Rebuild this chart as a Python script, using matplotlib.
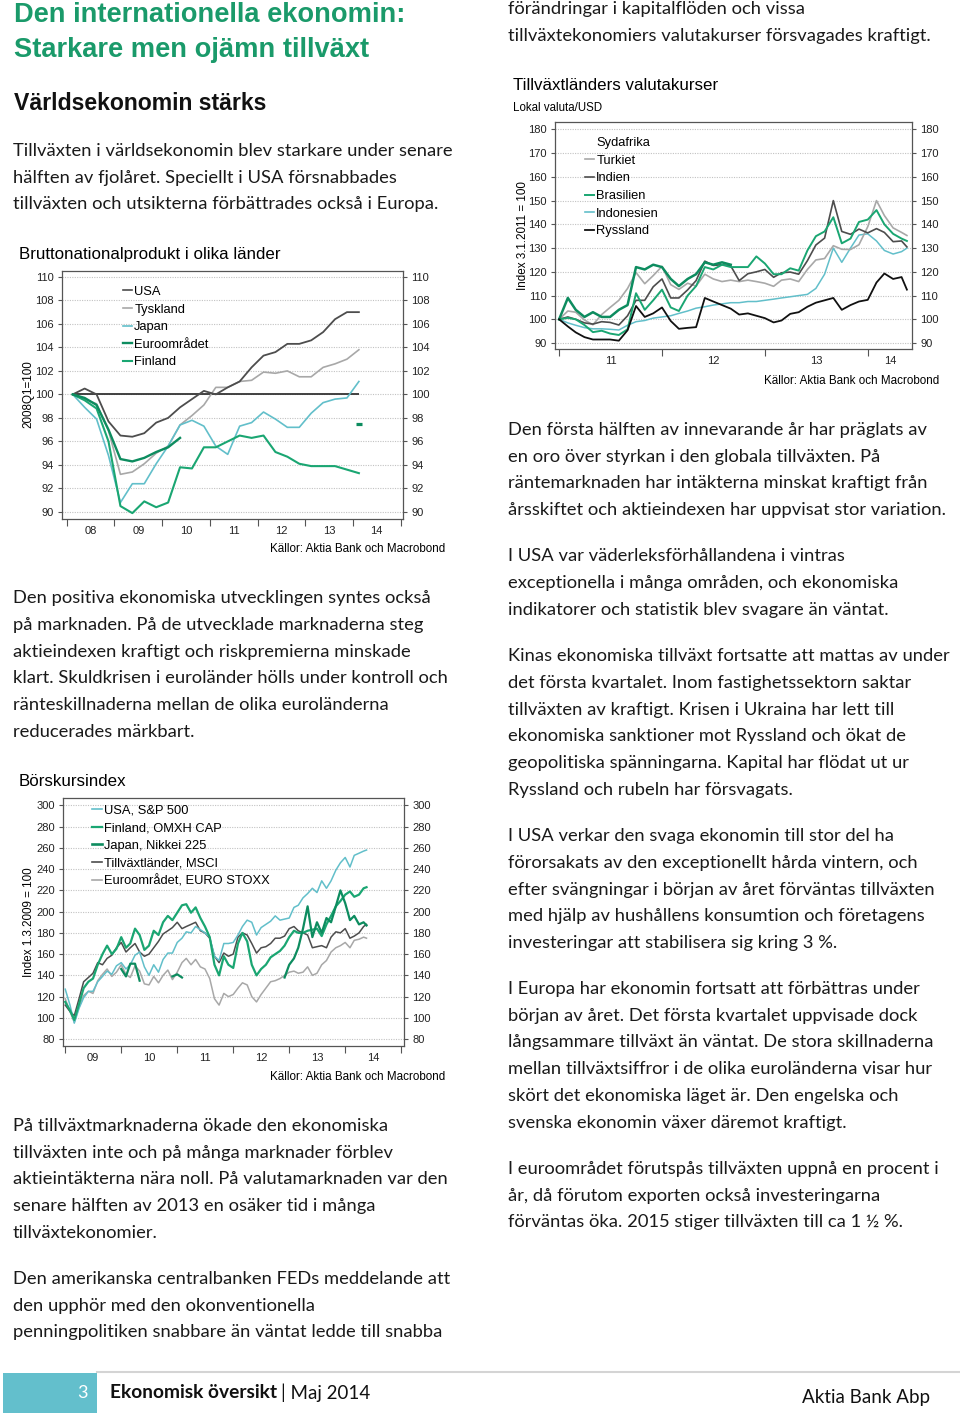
import numpy as np
import pandas as pd
import matplotlib
matplotlib.use("Agg")
import matplotlib.pyplot as plt
from matplotlib.lines import Line2D
from matplotlib.patches import Rectangle

nan = np.nan

# Bruttonationalprodukt i olika länder, 2008Q1 = 100 (kvartal)
gdp_quarters = pd.period_range("2008Q1", "2014Q1", freq="Q")
gdp_base = 100
gdp_usa = [100.0, 100.5, 100.0, 97.7, 96.5, 96.4, 96.7, 97.6, 98.0, 98.9, 99.6, 100.3, 100.0,
           100.6, 101.1, 102.3, 103.3, 103.6, 104.3, 104.3, 104.6, 105.3, 106.4, 107.0, 107.0]
gdp_tyskland = [100.0, 99.6, 99.2, 96.9, 93.2, 93.4, 94.1, 95.0, 95.6, 97.4, 98.2, 99.1, 100.6,
                100.6, 101.1, 101.2, 101.9, 101.8, 102.0, 101.5, 101.5, 102.3, 102.6, 103.0, 103.8]
gdp_japan = [100.0, 98.9, 97.9, 94.8, 90.8, 92.4, 92.4, 94.1, 95.6, 97.4, 97.8, 97.3, 95.6,
             94.9, 97.3, 97.6, 98.5, 97.9, 97.2, 97.2, 98.4, 99.3, 99.6, 99.7, 101.1]
gdp_euro = [100.0, 99.7, 99.1, 97.0, 94.5, 94.3, 94.6, 95.1, 95.5, 96.3,
            nan, nan, nan, nan, nan, nan, nan, nan, nan, nan, nan, nan, nan, nan, 97.5]
gdp_finland = [100.0, 99.5, 98.8, 96.0, 90.5, 89.9, 90.9, 90.4, 90.8, 93.8, 93.7, 95.5, 95.5,
               96.0, 96.5, 96.3, 96.5, 95.1, 94.7, 94.1, 93.9, 93.9, 93.9, 93.6, 93.3]

# Börskursindex, 1.3.2009 = 100 (månadsvis jan 2009 - maj 2014 + sista notering)
stock_dates = list(pd.date_range("2009-01-01", "2014-05-01", freq="MS")) + [pd.Timestamp("2014-05-20")]
stock_usa = [127, 112, 95, 109, 119, 125, 125, 134, 139, 144, 141, 149,
             152, 146, 150, 159, 162, 148, 140, 150, 143, 155, 161, 161,
             171, 175, 181, 180, 186, 183, 180, 176, 158, 154, 170, 170,
             171, 178, 186, 192, 190, 178, 185, 188, 191, 196, 192, 193,
             194, 204, 206, 213, 217, 222, 218, 229, 222, 229, 239, 246,
             251, 242, 253, 255, 257, 258]
stock_finland = [115, 107, 98, 113, 128, 134, 137, 150, 160, 168, 160, 165,
                 176, 166, 170, 184, 178, 164, 168, 182, 178, 190, 196, 192,
                 199, 206, 207, 199, 204, 194, 186, 176, 150, 140, 158, 150,
                 147, 170, 180, 172, 150, 140, 146, 150, 157, 160, 163, 168,
                 176, 182, 180, 180, 182, 183, 184, 177, 188, 196, 205, 210,
                 216, 219, 214, 216, 222, 223]
stock_japan = [nan, nan, nan, nan, nan, nan, nan, nan, nan, nan, nan, nan,
               146, 139, 151, 151, 135, nan, nan, nan, nan, nan, nan, 139,
               141, 138, nan, nan, nan, nan, nan, nan, nan, nan, nan, nan,
               nan, nan, nan, nan, nan, nan, nan, nan, nan, nan, nan, 138,
               150, 156, 166, 184, 205, 176, 190, 180, 194, 190, 205, 220,
               208, 192, 196, 188, 190, 187]
stock_em = [112, 106, 102, 118, 134, 138, 142, 152, 150, 156, 159, 166,
            171, 162, 166, 170, 162, 158, 160, 166, 172, 179, 182, 185,
            190, 184, 186, 188, 190, 182, 180, 175, 158, 152, 161, 158,
            160, 176, 180, 178, 170, 161, 166, 167, 170, 175, 175, 177,
            184, 186, 182, 180, 178, 166, 167, 168, 166, 176, 181, 180,
            184, 175, 177, 180, 186, 188]
stock_euro = [118, 106, 96, 110, 121, 125, 123, 135, 141, 146, 139, 143,
              150, 141, 138, 149, 144, 132, 131, 139, 133, 140, 145, 136,
              143, 152, 156, 150, 155, 148, 146, 137, 118, 112, 123, 120,
              122, 128, 133, 131, 120, 115, 122, 128, 134, 135, 137, 140,
              143, 144, 142, 143, 148, 140, 142, 150, 154, 162, 166, 168,
              171, 166, 173, 174, 176, 175]

# Tillväxtländers valutakurser, lokal valuta/USD, 3.1.2011 = 100
fx_dates = list(pd.date_range("2011-01-01", "2014-05-01", freq="MS")) + [pd.Timestamp("2014-05-20")]
fx_sydafrika = [100, 109, 104, 101, 103, 101, 101, 104, 106, 122, 121, 123,
                122, 117, 114, 117, 119, 124, 123, 124, 123, nan, nan, nan,
                nan, nan, nan, nan, nan, nan, nan, nan, nan, nan, nan, nan,
                nan, nan, nan, nan, nan, nan]
fx_turkiet = [100, 103.5, 103, 99.7, 97.7, 102, 105, 108, 113, 119.7, 115, 118.4,
              122.3, 114.6, 112.6, 115.2, 114, 119, 117, 115.9, 116.5, 115.9, 116.5, 115.9,
              115.2, 113.9, 116.5, 117, 115.9, 121, 125, 125.6, 131, 129.5, 129.4, 131.4,
              139, 150, 143.7, 138.5, 136.6, 135.3]
fx_indien = [100, 101, 100, 98.5, 98, 99, 98.7, 97.6, 101.5, 108, 108, 113.7,
             117, 109, 109, 112.4, 116.3, 124.5, 122.7, 123, 122.5, 116.3, 119.2, 120,
             121, 117.7, 119.6, 119.9, 119, 124.7, 131.3, 134.2, 150, 137, 135.8, 138,
             136.4, 138.2, 136.6, 132.7, 133, 130.5]
fx_brasilien = [100, 100.6, 100, 97.6, 94.6, 95.2, 94, 93.4, 95.8, 111, 104, 108,
                112.5, 105, 103.5, 110, 114, 122, 121, 123, 122, 122, 122, 126.5,
                123.5, 119, 119, 121.5, 120.5, 129, 135, 137, 143, 132, 134, 141,
                142, 146, 140, 136, 134, 133]
fx_indonesien = [100, 98.5, 97.5, 96.5, 96, 96, 95.8, 95.5, 97.5, 99, 99.5, 100.5,
                 101, 101.5, 102.5, 103.5, 104.7, 105.3, 106, 106.5, 107, 107, 107.5, 107.5,
                 108, 108.5, 109, 109.5, 110, 110.5, 113, 119, 130, 124, 130, 135.5,
                 136, 133, 129, 127.5, 128.5, 130]
fx_ryssland = [100, 97, 94.5, 92.5, 91.5, 91.5, 91.5, 91, 95.4, 105.6, 101, 102.5,
               105, 99.3, 96, 96.4, 96.7, 109, 107.5, 106, 104.5, 102, 102.5, 101.5,
               100.5, 98.7, 99.5, 102.3, 103, 105.3, 107, 108, 109, 104, 106, 107.5,
               108.2, 115.5, 119.3, 117, 117.8, 112.5]

W, H = 960, 1414
BODY = "Lato"
CHART = "Liberation Sans"
DARK = "#4d4d4d"
LIGHT = "#a8a8a8"
TEAL = "#62bfca"
GREEN = "#1aa672"
DKGREEN = "#0d8c5f"
BLACK = "#111111"

plt.rcParams["font.family"] = CHART

fig = plt.figure(figsize=(W / 100, H / 100), dpi=100)


def txt(x, y, s, size, **kw):
    kw.setdefault("va", "center")
    fig.text(x / W, 1 - y / H, s, fontsize=size, **kw)


def add_ax(left, top, right, bottom):
    return fig.add_axes([left / W, 1 - bottom / H, (right - left) / W, (bottom - top) / H])


def to_year(dates):
    return np.array([d.year + (d.dayofyear - 1) / 365.25 for d in dates])


def style_ax(ax, xlim, ylim, yticks, years, labels, label_pos):
    ax.set_xlim(*xlim)
    ax.set_ylim(*ylim)
    ax.set_yticks(yticks)
    ax.tick_params(axis="y", left=True, right=True, labelleft=True, labelright=True,
                   length=3, width=0.8, color="#555555", labelsize=8, pad=3, labelcolor="#222222")
    ax.set_xticks(years)
    ax.set_xticklabels([])
    ax.tick_params(axis="x", which="major", length=5, width=0.8, color="#555555")
    ax.set_xticks(label_pos, minor=True)
    ax.set_xticklabels(labels, minor=True)
    ax.tick_params(axis="x", which="minor", length=0, labelsize=8, pad=5, labelcolor="#222222")
    ax.grid(axis="y", color="#c2c2c2", lw=0.8, ls=(0, (1, 1.2)))
    ax.set_axisbelow(True)
    for sp in ax.spines.values():
        sp.set_color("#555555")
        sp.set_linewidth(0.9)


def plot_series(ax, x, y, color, lw, zorder=3):
    y = np.asarray(y, dtype=float)
    ax.plot(x, y, color=color, lw=lw, zorder=zorder, solid_joinstyle="round")
    ok = ~np.isnan(y)
    prev = np.r_[False, ok[:-1]]
    nxt = np.r_[ok[1:], False]
    lone = ok & ~prev & ~nxt
    if lone.any():
        ax.plot(x[lone], y[lone], ls="none", marker="_", ms=4, mew=lw + 0.6, color=color, zorder=zorder)


def legend(ax, entries, anchor):
    handles = [Line2D([], [], color=c, lw=lw) for _, c, lw in entries]
    lg = ax.legend(handles, [n for n, _, _ in entries], loc="upper left", bbox_to_anchor=anchor,
                   frameon=False, fontsize=9.3, handlelength=0.75, handletextpad=0.15,
                   labelspacing=0.43, borderaxespad=0, borderpad=0)
    lg.set_zorder(10)


# ---------------- chart 1 ----------------
ax1 = add_ax(62, 271, 403, 519)
gx = np.array([p.year + (p.quarter - 0.5) / 4 for p in gdp_quarters])
years1 = list(range(2008, 2016))
style_ax(ax1, (2007.9, 2015.05), (89.4, 110.5), list(range(90, 111, 2)), years1,
         [f"{y % 100:02d}" for y in years1[:-1]], [y + 0.5 for y in years1[:-1]])
ax1.hlines(gdp_base, gx[0], gx[-1], color="#333333", lw=1.3, zorder=2)
plot_series(ax1, gx, gdp_tyskland, LIGHT, 1.2)
plot_series(ax1, gx, gdp_japan, TEAL, 1.2)
plot_series(ax1, gx, gdp_usa, DARK, 1.3)
plot_series(ax1, gx, gdp_finland, GREEN, 1.5)
plot_series(ax1, gx, gdp_euro, DKGREEN, 1.7)
legend(ax1, [("USA", DARK, 1.2), ("Tyskland", LIGHT, 1.2), ("Japan", TEAL, 1.2),
             ("Euroområdet", DKGREEN, 1.7), ("Finland", GREEN, 1.5)], (0.178, 0.94))

# ---------------- chart 2 ----------------
ax2 = add_ax(63, 798, 404, 1046)
sx = to_year(stock_dates)
years2 = list(range(2009, 2016))
style_ax(ax2, (2008.96, 2015.05), (73.5, 307), list(range(80, 301, 20)), years2,
         [f"{y % 100:02d}" for y in years2[:-1]], [y + 0.5 for y in years2[:-1]])
plot_series(ax2, sx, stock_euro, LIGHT, 1.1)
plot_series(ax2, sx, stock_em, DARK, 1.1)
plot_series(ax2, sx, stock_usa, TEAL, 1.1)
plot_series(ax2, sx, stock_finland, GREEN, 1.6)
plot_series(ax2, sx, stock_japan, DKGREEN, 1.6)
legend(ax2, [("USA, S&P 500", TEAL, 1.2), ("Finland, OMXH CAP", GREEN, 1.6),
             ("Japan, Nikkei 225", DKGREEN, 1.9), ("Tillväxtländer, MSCI", DARK, 1.2),
             ("Euroområdet, EURO STOXX", LIGHT, 1.2)], (0.085, 0.973))

# ---------------- chart 3 ----------------
ax3 = add_ax(555, 122, 912, 349)
fx = to_year(fx_dates)
years3 = [2011, 2012, 2013, 2014]
xlim3 = (2010.96, 2014.43)
style_ax(ax3, xlim3, (87.5, 183.1), list(range(90, 181, 10)), years3,
         ["11", "12", "13", "14"], [2011.5, 2012.5, 2013.5, (2014 + xlim3[1]) / 2])
plot_series(ax3, fx, fx_indonesien, TEAL, 1.1)
plot_series(ax3, fx, fx_turkiet, LIGHT, 1.2)
plot_series(ax3, fx, fx_indien, DARK, 1.2)
plot_series(ax3, fx, fx_brasilien, GREEN, 1.4)
plot_series(ax3, fx, fx_sydafrika, DKGREEN, 1.8)
plot_series(ax3, fx, fx_ryssland, BLACK, 1.3)
legend(ax3, [("Sydafrika", "none", 1.2), ("Turkiet", LIGHT, 1.2), ("Indien", DARK, 1.2),
             ("Brasilien", GREEN, 1.4), ("Indonesien", TEAL, 1.2), ("Ryssland", BLACK, 1.3)],
       (0.083, 0.933))

# chart titles, axis labels, sources
txt(19, 254, "Bruttonationalprodukt i olika länder", 12.2)
txt(28, 394, "2008Q1=100", 8.4, rotation=90, ha="center")
txt(445, 549, "Källor: Aktia Bank och Macrobond", 8.4, ha="right")
txt(19, 781, "Börskursindex", 12.2)
txt(29, 922, "Index 1.3.2009 = 100", 8.4, rotation=90, ha="center")
txt(445, 1077, "Källor: Aktia Bank och Macrobond", 8.4, ha="right")
txt(513, 85, "Tillväxtländers valutakurser", 12.2)
txt(513, 108, "Lokal valuta/USD", 8.3)
txt(523, 236, "Index 3.1.2011 = 100", 8.4, rotation=90, ha="center")
txt(939, 381, "Källor: Aktia Bank och Macrobond", 8.4, ha="right")

# headings
txt(14, 15, "Den internationella ekonomin:", 19.6, color="#1a9a6a", fontweight="bold")
txt(14, 50, "Starkare men ojämn tillväxt", 19.6, color="#1a9a6a", fontweight="bold")
txt(14, 103, "Världsekonomin stärks", 16.6, color="#111111", fontweight="bold")

# body text
LEAD = 26.75
left_paras = [
    (151, ["Tillväxten i världsekonomin blev starkare under senare",
           "hälften av fjolåret. Speciellt i USA försnabbades",
           "tillväxten och utsikterna förbättrades också i Europa."]),
    (598, ["Den positiva ekonomiska utvecklingen syntes också",
           "på marknaden. På de utvecklade marknaderna steg",
           "aktieindexen kraftigt och riskpremierna minskade",
           "klart. Skuldkrisen i euroländer hölls under kontroll och",
           "ränteskillnaderna mellan de olika euroländerna",
           "reducerades märkbart."]),
    (1126, ["På tillväxtmarknaderna ökade den ekonomiska",
            "tillväxten inte och på många marknader förblev",
            "aktieintäkterna nära noll. På valutamarknaden var den",
            "senare hälften av 2013 en osäker tid i många",
            "tillväxtekonomier."]),
    (1279, ["Den amerikanska centralbanken FEDs meddelande att",
            "den upphör med den okonventionella",
            "penningpolitiken snabbare än väntat ledde till snabba"]),
]
right_paras = [
    (9, ["förändringar i kapitalflöden och vissa",
         "tillväxtekonomiers valutakurser försvagades kraftigt."]),
    (430, ["Den första hälften av innevarande år har präglats av",
           "en oro över styrkan i den globala tillväxten. På",
           "räntemarknaden har intäkterna minskat kraftigt från",
           "årsskiftet och aktieindexen har uppvisat stor variation."]),
    (556, ["I USA var väderleksförhållandena i vintras",
           "exceptionella i många områden, och ekonomiska",
           "indikatorer och statistik blev svagare än väntat."]),
    (656, ["Kinas ekonomiska tillväxt fortsatte att mattas av under",
           "det första kvartalet. Inom fastighetssektorn saktar",
           "tillväxten av kraftigt. Krisen i Ukraina har lett till",
           "ekonomiska sanktioner mot Ryssland och ökat de",
           "geopolitiska spänningarna. Kapital har flödat ut ur",
           "Ryssland och rubeln har försvagats."]),
    (836, ["I USA verkar den svaga ekonomin till stor del ha",
           "förorsakats av den exceptionellt hårda vintern, och",
           "efter svängningar i början av året förväntas tillväxten",
           "med hjälp av hushållens konsumtion och företagens",
           "investeringar att stabilisera sig kring 3 %."]),
    (989, ["I Europa har ekonomin fortsatt att förbättras under",
           "början av året. Det första kvartalet uppvisade dock",
           "långsammare tillväxt än väntat. De stora skillnaderna",
           "mellan tillväxtsiffror i de olika euroländerna visar hur",
           "skört det ekonomiska läget är. Den engelska och",
           "svenska ekonomin växer däremot kraftigt."]),
    (1169, ["I euroområdet förutspås tillväxten uppnå en procent i",
            "år, då förutom exporten också investeringarna",
            "förväntas öka. 2015 stiger tillväxten till ca 1 ½ %."]),
]
for x0, paras in ((13, left_paras), (508, right_paras)):
    for y0, lines in paras:
        for i, line in enumerate(lines):
            txt(x0, y0 + i * LEAD, line, 13.2, family=BODY, color="#1a1a1a")

# footer
fig.add_artist(Line2D([97 / W, 1], [1 - 1372 / H] * 2, color="#d4d4d4", lw=1.5))
fig.add_artist(Rectangle((3 / W, 1 - 1413 / H), 94 / W, 40 / H, color="#63bfcc", lw=0))
txt(82, 1393, "3", 13, family=BODY, color="white", ha="center")
txt(110, 1393, "Ekonomisk översikt", 13.8, family=BODY, fontweight="bold", color="#111111")
txt(281, 1393, "| Maj 2014", 13.5, family=BODY, color="#111111")
txt(930, 1397, "Aktia Bank Abp", 13.5, family=BODY, color="#111111", ha="right")

fig.savefig("out.png", dpi=100)
